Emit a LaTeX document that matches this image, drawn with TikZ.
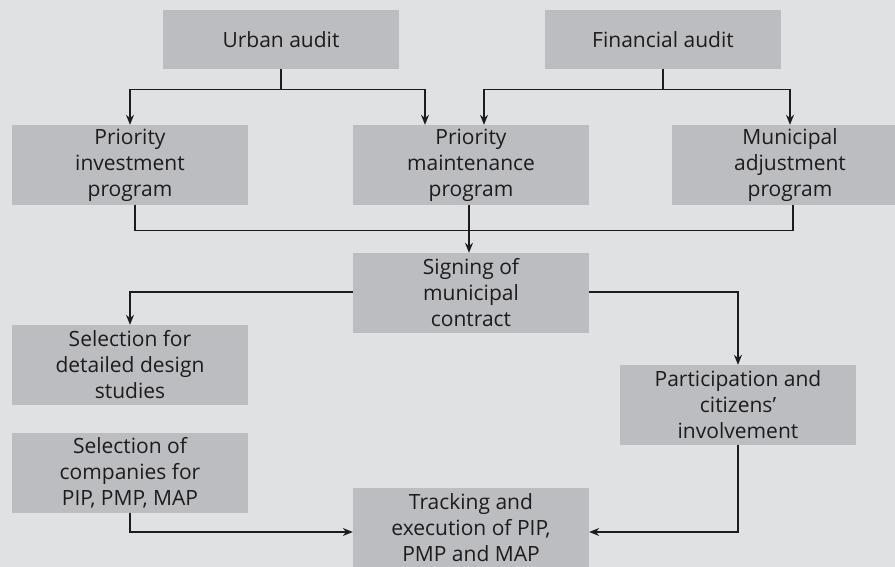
\documentclass[tikz,border=0pt]{standalone}
\usepackage{fontspec}
\setmainfont{Open Sans}
\usetikzlibrary{arrows.meta}
\definecolor{bgcol}{RGB}{224,225,227}
\definecolor{boxcol}{RGB}{188,189,192}
\definecolor{inkcol}{RGB}{30,27,28}
\tikzset{
  stagebox/.style={fill=boxcol,text=inkcol,align=center,minimum width=236pt,
    minimum height=80pt,inner sep=0pt,font=\fontsize{21}{26}\selectfont},
  auditbox/.style={stagebox,minimum height=59pt},
  link/.style={draw=inkcol,line width=1.2pt},
  flow/.style={link,-{Stealth[length=10pt,width=8pt]}}
}

\begin{document}
\begin{tikzpicture}[x=1pt,y=-1pt]
\useasboundingbox (0,0) rectangle (895,567);
\clip (0,0) rectangle (895,567);
\fill[bgcol] (0,0) rectangle (895,567);
% audits:
\node[auditbox] (urban) at (281,39.5) {Urban audit};
\node[auditbox] (fin) at (663,39.5) {Financial audit};
% programs:
\node[stagebox] (pip) at (130,165) {Priority\\investment\\program};
\node[stagebox] (pmp) at (471,165) {Priority\\maintenance\\program};
\node[stagebox] (map) at (790,165) {Municipal\\adjustment\\program};
% contract and after:
\node[stagebox] (sign) at (471,293) {Signing of\\municipal\\contract};
\node[stagebox] (sel1) at (130,365) {Selection for\\detailed design\\studies};
\node[stagebox] (part) at (738,405) {Participation and\\citizens'\\involvement};
\node[stagebox] (sel2) at (130,473) {Selection of\\companies for\\PIP, PMP, MAP};
\node[stagebox] (track) at (471,528) {Tracking and\\execution of PIP,\\PMP and MAP};
% connectors:
\draw[flow] (urban.south) -- ++(0,20) -| (pip.north);
\draw[flow] (urban.south) -- ++(0,20) -| ([xshift=-46pt]pmp.north);
\draw[flow] (fin.south) -- ++(0,20) -| ([xshift=13pt]pmp.north);
\draw[flow] (fin.south) -- ++(0,20) -| (map.north);
\draw[link] ([xshift=5pt]pip.south) -- ++(0,25) -| ([xshift=3pt]map.south);
\draw[flow] ([xshift=-2pt]pmp.south) -- ([xshift=-2pt]sign.north);
\draw[flow] ([yshift=1pt]sign.west) -| (sel1.north);
\draw[flow] ([yshift=1pt]sign.east) -| (part.north);
\draw[flow] (part.south) |- ([yshift=-4pt]track.east);
\draw[flow] (sel2.south) |- ([yshift=-4pt]track.west);
\end{tikzpicture}
\end{document}
